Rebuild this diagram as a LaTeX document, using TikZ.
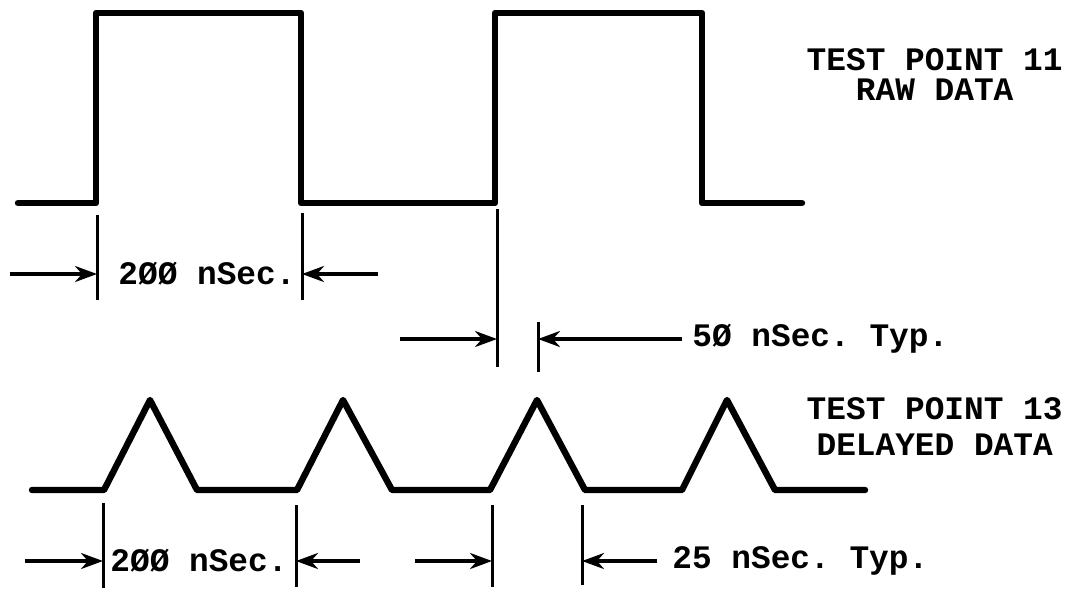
\documentclass[tikz,border=0pt]{standalone}
\usepackage{fontspec}
\setmonofont{Liberation Mono}
\usetikzlibrary{arrows.meta}
\newcommand*{\extline}[4]{%
  \coordinate (#1 top) at (#2,#3);
  \coordinate (#1 bot) at (#2,#4);
  \draw[ext] (#1 top) -- (#1 bot);
}

\begin{document}
\begin{tikzpicture}[x=0.5pt,y=-0.5pt,
		wave/.style={line width=3.2pt, line join=round, line cap=round},
		ext/.style={line width=1.5pt},
		dim/.style={line width=1.7pt, -{Stealth[length=11pt,width=8pt,inset=3.5pt]}},
		lbl/.style={font=\ttfamily\bfseries\fontsize{16.4}{16}\selectfont, inner sep=0pt}]
		\useasboundingbox (0,0) rectangle (1068,590);
		% raw data
		\draw[wave] (18,203) -- (96,203) -- (96,13) -- (301,13) -- (301,203)
			-- (495,203) -- (495,13) -- (702,13) -- (702,203) -- (802,203);
		% delayed data
		\draw[wave] (32,490) -- (104,490) -- (150,400) -- (197,490) -- (297,490)
			-- (343,400) -- (392,490) -- (490,490) -- (537,400) -- (585,490)
			-- (682,490) -- (727,400) -- (775,490) -- (865,490);
		\node[lbl, align=center, anchor=north east] (tp11) at (1063,48) {TEST POINT 11\\[-1pt]RAW DATA};
		\node[lbl, align=center, anchor=north east] (tp13) at (1063,397) {TEST POINT 13\\[2pt]DELAYED DATA};
		% 200 nSec. raw
		\extline{ra}{97}{215}{300}
		\extline{rb}{302}{213}{300}
		\coordinate (ra tail) at (10,274);
		\coordinate (rb tail) at (378,274);
		\draw[dim] (ra tail) -- (ra tail -| ra top);
		\draw[dim] (rb tail) -- (rb tail -| rb top);
		\node[lbl, anchor=west] (raw200) at (118,274) {2ØØ nSec.};
		% 50 nSec.
		\extline{ma}{497}{209}{367}
		\extline{mb}{538}{322}{372}
		\coordinate (ma tail) at (400,339);
		\coordinate (mb tail) at (682,339);
		\draw[dim] (ma tail) -- (ma tail -| ma top);
		\draw[dim] (mb tail) -- (mb tail -| mb top);
		\node[lbl, anchor=west] (raw50) at (692,339) {5Ø nSec. Typ.};
		% 200 nSec. delayed
		\extline{da}{103}{503}{588}
		\extline{db}{296}{505}{587}
		\coordinate (da tail) at (25,561);
		\coordinate (db tail) at (360,561);
		\draw[dim] (da tail) -- (da tail -| da top);
		\draw[dim] (db tail) -- (db tail -| db top);
		\node[lbl, anchor=west] (del200) at (110,561) {2ØØ nSec.};
		% 25 nSec.
		\extline{dc}{492}{505}{587}
		\extline{dd}{582}{505}{585}
		\coordinate (dc tail) at (415,561);
		\coordinate (dd tail) at (657,561);
		\draw[dim] (dc tail) -- (dc tail -| dc top);
		\draw[dim] (dd tail) -- (dd tail -| dd top);
		\node[lbl, anchor=west] (del25) at (672,561) {25 nSec. Typ.};
\end{tikzpicture}
\end{document}
